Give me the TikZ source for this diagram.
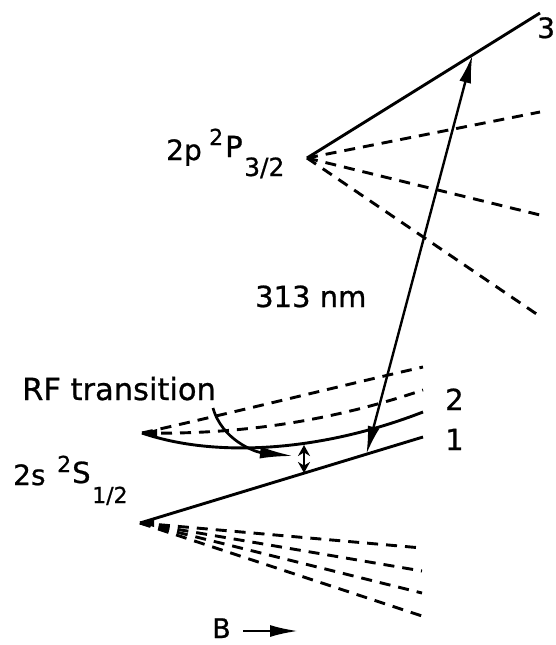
\documentclass[tikz,border=0pt]{standalone}
\usepackage{fontspec}
\setmainfont[FakeBold=0.8]{DejaVu Sans}
\usetikzlibrary{arrows.meta,calc}
\begin{document}
\begin{tikzpicture}[x=1pt,y=-1pt,
  level/.style={line width=2.9pt},
  sublevel/.style={line width=2.9pt, dash pattern=on 11pt off 8pt},
  lbl/.style={anchor=base west, inner sep=0pt, font=\fontsize{29}{34}\selectfont},
  sml/.style={anchor=base west, inner sep=0pt, font=\fontsize{22}{26}\selectfont},
  laser/.style={line width=2.4pt, {Latex[length=28pt,width=12pt]}-{Latex[length=28pt,width=12pt]}},
  rfarrow/.style={line width=2.7pt, -{Latex[length=33pt,width=12pt]}},
  splitarrow/.style={line width=2.3pt, {Stealth[length=11pt,width=12pt]}-{Stealth[length=11pt,width=12pt]}},
  fieldarrow/.style={line width=2.4pt, -{Latex[length=28pt,width=12pt]}},
]
\useasboundingbox (0,0) rectangle (556,645);
% ---------- 2p 2P3/2 fan ----------
\coordinate (P) at (307,158);
\coordinate (P3) at (540,13);
\coordinate (Pa) at (540,112);
\coordinate (Pb) at (540,215);
\coordinate (Pc) at (538,315);
\draw[level] (P) -- (P3);
\draw[sublevel] (P) -- (Pa);
\draw[sublevel] (P) -- (Pb);
\draw[sublevel] (P) -- (Pc);
% ---------- 2s 2S1/2 upper group ----------
\coordinate (S) at (142,433);
\coordinate (Sa) at (423,367);
\coordinate (Sb) at (423,390);
\coordinate (S2) at (423,412);
\draw[sublevel] (S) .. controls (240,411) and (340,386) .. (Sa);
\draw[sublevel] (S) .. controls (250,435) and (340,418) .. (Sb);
\draw[level] (S) .. controls (215,458) and (320,452) .. (S2);
\fill (S) -- (157,429) -- (157,437) -- cycle;
% ---------- 2s 2S1/2 lower group ----------
\coordinate (T) at (140,523);
\coordinate (T1) at (423,437);
\coordinate (Ta) at (422,548);
\coordinate (Tb) at (422,571);
\coordinate (Tc) at (422,593);
\coordinate (Td) at (422,616);
\draw[level] (T) -- (T1);
\draw[sublevel] (T) -- (Ta);
\draw[sublevel] (T) -- (Tb);
\draw[sublevel] (T) -- (Tc);
\draw[sublevel] (T) -- (Td);
\fill (T) -- (154,518) -- (154,527) -- cycle;
% ---------- transitions ----------
\coordinate (laserBot) at ($(T)!0.8!(T1)$);
\coordinate (laserTop) at ($(P)!0.71!(P3)$);
\draw[laser] (laserBot) -- (laserTop);
\coordinate (rfStart) at (213,408);
\coordinate (rfEnd) at (293,456);
\draw[rfarrow] (rfStart) .. controls (222,440) and (255,452) .. (rfEnd);
\coordinate (splitTop) at (304,445);
\coordinate (splitBot) at (304,473);
\draw[splitarrow] (splitTop) -- (splitBot);
% ---------- labels ----------
\node[lbl,font=\fontsize{28}{34}\selectfont] (lP2p) at (166,160) {2p};
\node[sml] (lPsup) at (209,145) {2};
\node[lbl] (lPP) at (225,157) {P};
\node[sml,font=\fontsize{25}{30}\selectfont] (lPsub) at (244,176) {3/2};
\node[lbl] (lnm) at (255,307) {313 nm};
\node[lbl,font=\fontsize{30.5}{36}\selectfont] (lrf) at (22,400) {RF transition};
\node[lbl,font=\fontsize{28}{34}\selectfont] (lS2s) at (13,485) {2s};
\node[sml] (lSsup) at (57,472) {2};
\node[lbl] (lSS) at (72,483) {S};
\node[sml] (lSsub) at (92,503) {1/2};
\node[lbl,font=\fontsize{28}{34}\selectfont] (l3) at (537,38) {3};
\node[lbl] (l2) at (445,410) {2};
\node[lbl] (l1) at (445,450) {1};
\node[lbl,font=\fontsize{27}{32}\selectfont] (lB) at (212,638) {B};
\coordinate (Bs) at (243,631);
\coordinate (Be) at (298,631);
\draw[fieldarrow] (Bs) -- (Be);
\end{tikzpicture}
\end{document}
